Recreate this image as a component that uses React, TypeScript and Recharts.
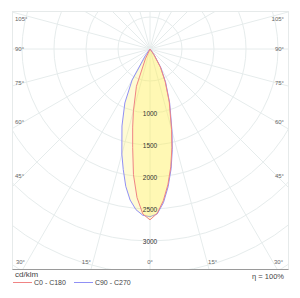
import { RadarChart, Radar, PolarGrid, PolarAngleAxis, PolarRadiusAxis } from 'recharts';

// gamma angles (deg), 0 = straight down, finer steps near the beam axis
const GAMMA = [0, 2.5, 5, 7.5, 10, 12.5, 15, 20, 25, 30, 35, 40, 45, 315, 320, 325, 330, 335, 340, 345, 347.5, 350, 352.5, 355, 357.5];
// luminous intensity, cd/klm
const C0_C180 = [2670, 2570, 2380, 2140, 1870, 1580, 1300, 880, 560, 320, 100, 0, 0, 0, 0, 0, 0, 170, 620, 1000, 1250, 1560, 1980, 2330, 2580];
const C90_C270 = [2620, 2580, 2410, 2170, 1900, 1610, 1330, 900, 580, 340, 120, 0, 0, 0, 0, 130, 560, 930, 1280, 1700, 1930, 2180, 2380, 2520, 2600];

const ANGLE_TICKS = [0, 15, 30, 45, 60, 75, 90, 105, 120, 135, 150, 165, 180, 195, 210, 225, 240, 255, 270, 285, 300, 315, 330, 345];
const RING_LABELS = [1000, 1500, 2000, 2500, 3000];
const MAX_CD = 4000;

const data = GAMMA.map((gamma, i) => ({ gamma, c0: C0_C180[i], c90: C90_C270[i] }));

const FONT = '"Liberation Sans", Arial, sans-serif';
const OUTER_R = 256;
const CX = 137;
const CY = 37;

const angleTick = (p: any) => {
  const g = p.payload.value;
  const deg = g <= 180 ? g : 360 - g;
  if (deg > 105) return <g />;
  const a = (p.payload.coordinate * Math.PI) / 180;
  const dx = Math.cos(a);
  const dy = -Math.sin(a);
  const common = { fontSize: 6, fill: '#666', fontFamily: FONT, dominantBaseline: 'central' as const };
  if (deg <= 30) {
    const y = 250;
    const x = p.cx + (dx * (y - p.cy)) / dy;
    const anchor = deg === 0 ? 'middle' : dx < 0 ? 'end' : 'start';
    const xx = deg === 0 ? x : dx < 0 ? x - 2 : x + 1;
    return (
      <text x={xx} y={y} textAnchor={anchor} {...common}>
        {deg}°
      </text>
    );
  }
  const yi = p.cy + (127 * dy) / Math.abs(dx);
  const y = Math.max(yi, 7);
  return (
    <text x={dx < 0 ? 2 : 271} y={y} textAnchor={dx < 0 ? 'start' : 'end'} {...common}>
      {deg}°
    </text>
  );
};

const radiusTick = (p: any) => {
  if (!RING_LABELS.includes(p.payload.value)) return <g />;
  return (
    <text x={p.x} y={p.y} textAnchor="middle" dominantBaseline="central" fontSize={6.5} fill="#333" fontFamily={FONT}>
      {p.payload.value}
    </text>
  );
};

export default function App() {
  return (
    <div style={{ position: 'absolute', left: 0, top: 0, width: 300, height: 298, background: '#fff', fontFamily: FONT }}>
      <div
        style={{
          position: 'absolute',
          left: 12,
          top: 11,
          width: 277,
          height: 259,
          boxSizing: 'border-box',
          border: '1px solid #e6eaea',
          borderBottom: '1px solid #9a9a9a',
          overflow: 'hidden',
        }}
      >
        <RadarChart
          width={275}
          height={257}
          data={data}
          cx={CX}
          cy={CY}
          outerRadius={OUTER_R}
          startAngle={-90}
          endAngle={270}
          margin={{ top: 0, right: 0, bottom: 0, left: 0 }}
        >
          <PolarGrid gridType="circle" stroke="#e6ecec" innerRadius={(500 / MAX_CD) * OUTER_R} />
          <PolarAngleAxis
            type="number"
            dataKey="gamma"
            domain={[0, 360]}
            ticks={ANGLE_TICKS}
            tickCount={25}
            axisLine={false}
            tickLine={false}
            tick={angleTick}
          />
          <PolarRadiusAxis
            type="number"
            domain={[0, MAX_CD]}
            tickCount={9}
            angle={-90}
            axisLine={false}
            tick={radiusTick}
          />
          <Radar dataKey="c90" stroke="#9090f5" strokeWidth={1} fill="#ffee55" fillOpacity={0.25} isAnimationActive={false} />
          <Radar dataKey="c0" stroke="#f08484" strokeWidth={1} fill="#ffee55" fillOpacity={0.25} isAnimationActive={false} />
        </RadarChart>
      </div>
      <div style={{ position: 'absolute', left: 15, top: 270, fontSize: 8, color: '#444' }}>cd/klm</div>
      <div style={{ position: 'absolute', left: 13, top: 279, display: 'flex', alignItems: 'center', fontSize: 7, color: '#444' }}>
        <span style={{ width: 19, height: 1, background: '#f08484', marginRight: 2 }} />
        <span>C0 - C180</span>
        <span style={{ width: 19, height: 1, background: '#9090f5', marginLeft: 8, marginRight: 2 }} />
        <span>C90 - C270</span>
      </div>
      <div style={{ position: 'absolute', right: 16, top: 272, fontSize: 7.5, color: '#444' }}>η = 100%</div>
    </div>
  );
}
